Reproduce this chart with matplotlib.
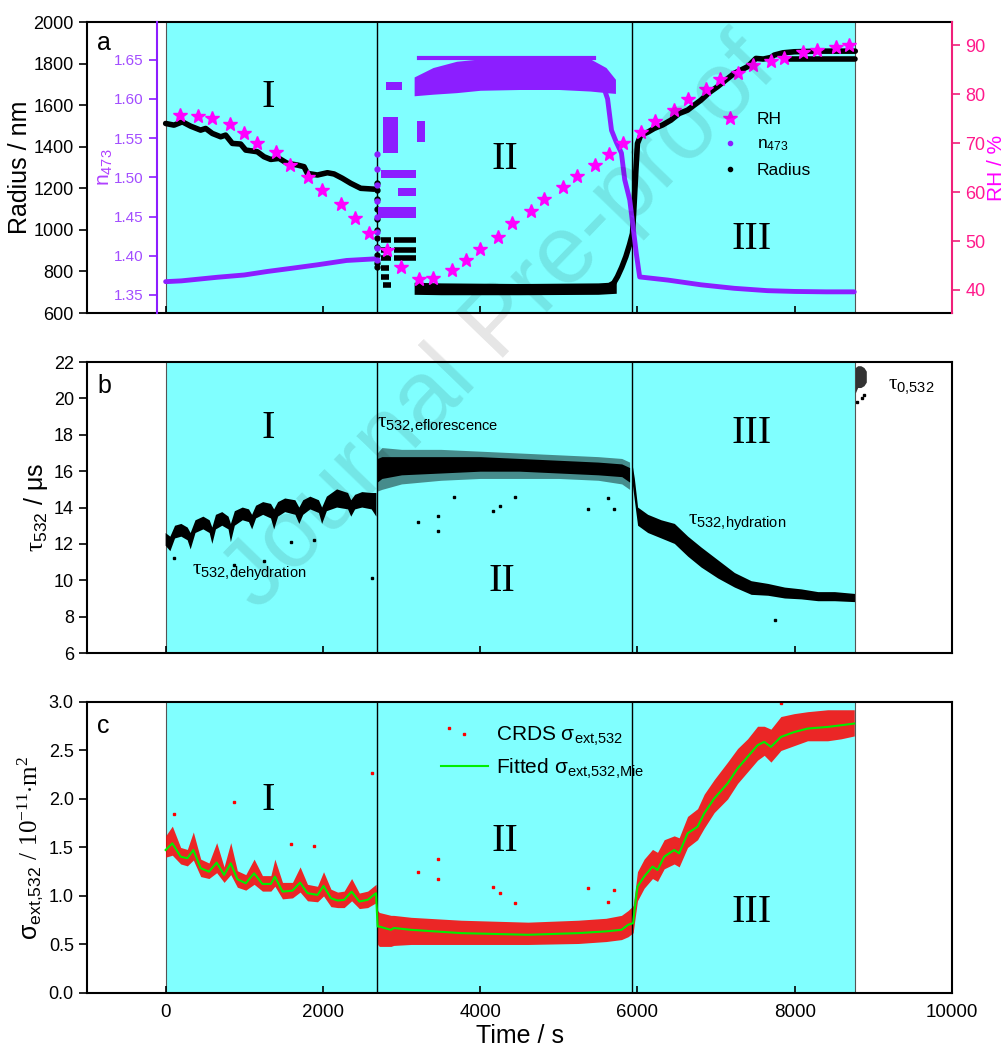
import numpy as np
import matplotlib
matplotlib.use('Agg')
import matplotlib.pyplot as plt
from matplotlib.lines import Line2D

plt.rcParams['font.family'] = ['Liberation Sans', 'DejaVu Sans']
plt.rcParams['mathtext.fontset'] = 'custom'
plt.rcParams['mathtext.rm'] = 'Liberation Serif'
plt.rcParams['mathtext.sf'] = 'Liberation Sans'
plt.rcParams['mathtext.it'] = 'Liberation Sans:italic'
plt.rcParams['mathtext.default'] = 'regular'

CYAN = '#80FFFF'
PURPLE = '#8C1EFF'
MAGENTA = '#FF00FF'
PINK = '#F0207A'
RED = '#FF0000'
GREEN = '#00EE00'

# regime boundaries (s)
t_start, t_eff, t_hyd, t_end = 0, 2684, 5935, 8770

# ---------------- panel a ----------------
# radius, regime I (nm)
rad1_t = [0, 106, 212, 318, 445, 509, 594, 700, 763, 848, 954, 1018, 1166, 1251, 1336,
          1442, 1548, 1675, 1760, 1802, 1930, 2057, 2142, 2248, 2354, 2481, 2650]
rad1_v = [1512, 1504, 1520, 1499, 1480, 1488, 1464, 1448, 1456, 1416, 1413, 1384, 1376, 1352, 1339,
          1344, 1320, 1312, 1304, 1272, 1264, 1275, 1269, 1248, 1224, 1200, 1196]
# radius column at efflorescence onset
rad_col_t = 2690
rad_col_v = [1225, 1190, 1150, 1100, 1050, 1000, 960, 920, 880, 840, 820]
# radius clusters just after efflorescence (start, end, value)
blk_t0 = [2735, 2900, 2735, 2900, 2735, 2900, 2735, 2735, 2760]
blk_t1 = [2860, 3180, 2860, 3180, 2860, 3180, 2840, 2840, 2860]
blk_v = [951, 951, 903, 903, 863, 863, 815, 775, 735]
# radius, crystalline plateau
rad2_t = [3160, 3500, 4500, 5500, 5730]
rad2_hi = [748, 745, 742, 745, 750]
rad2_lo = [690, 688, 688, 690, 695]
# radius, deliquescence + regime III
rad3_t = [5620, 5700, 5746, 5800, 5852, 5900, 5937, 5958, 5980, 6000, 6043, 6130, 6212, 6320,
          6425, 6530, 6637, 6720, 6806, 6910, 7018, 7120, 7230, 7320, 7400, 7506, 7600, 7700,
          7739, 7850, 7993, 8300, 8770]
rad3_v = [726, 745, 775, 820, 871, 930, 983, 1128, 1288, 1416, 1456, 1470, 1488, 1505,
          1528, 1560, 1576, 1600, 1624, 1660, 1689, 1720, 1753, 1770, 1785, 1825, 1822, 1830,
          1841, 1852, 1857, 1860, 1860]
rad4_t = [7860, 8770]
rad4_v = [1822, 1822]

# n473, regime I
n1_t = [0, 200, 658, 1000, 1295, 1600, 1932, 2300, 2654]
n1_v = [1.367, 1.368, 1.3726, 1.3755, 1.380, 1.384, 1.3885, 1.394, 1.396]
n_col_t = 2690
n_col_v = [1.395, 1.41, 1.43, 1.45, 1.47, 1.49, 1.51, 1.53]
# n473 clusters (start, end, low, high)
nb_t0 = [2760, 2800, 2740, 2960, 2700, 3200]
nb_t1 = [2960, 3000, 3180, 3180, 3180, 3300]
nb_lo = [1.531, 1.611, 1.499, 1.476, 1.448, 1.545]
nb_hi = [1.577, 1.621, 1.509, 1.486, 1.462, 1.572]
# n473 crystalline band
n2_t = [3160, 3400, 3700, 4000, 4500, 5000, 5400, 5600, 5720]
n2_hi = [1.628, 1.640, 1.648, 1.651, 1.651, 1.651, 1.651, 1.640, 1.625]
n2_lo = [1.604, 1.606, 1.608, 1.611, 1.612, 1.612, 1.610, 1.608, 1.607]
n2_top_t = [3220, 5450]
n2_top_v = [1.652, 1.652]
# n473 deliquescence + regime III
n3_t = [5540, 5620, 5670, 5730, 5796, 5838, 5880, 5902, 5944, 5985, 6028, 6387, 6806, 7230,
        7654, 8000, 8400, 8757]
n3_v = [1.624, 1.600, 1.560, 1.545, 1.531, 1.497, 1.480, 1.471, 1.437, 1.403, 1.373, 1.369,
        1.363, 1.3585, 1.3555, 1.3545, 1.354, 1.354]

# RH (%)
rh_t = [178, 412, 586, 819, 997, 1167, 1408, 1582, 1811, 1993, 2226, 2405, 2587, 2812, 2998,
        3223, 3405, 3639, 3817, 3995, 4228, 4402, 4644, 4813, 5047, 5229, 5462, 5640, 5818,
        6043, 6225, 6459, 6637, 6870, 7048, 7281, 7464, 7697, 7858, 8100, 8282, 8524, 8694]
rh_v = [75.8, 75.6, 75.1, 73.8, 72.0, 70.1, 68.1, 65.5, 63.0, 60.5, 57.6, 54.6, 51.6, 48.2, 44.7,
        42.2, 42.4, 44.0, 46.1, 48.3, 50.9, 53.6, 56.1, 58.5, 61.0, 63.3, 65.6, 67.7, 70.0,
        72.3, 74.4, 76.7, 78.9, 81.1, 83.0, 84.2, 86.0, 86.8, 87.3, 88.5, 88.9, 89.6, 90.1]

# ---------------- panel b: ring-down time (us), envelope of the scatter ----------------
tau_t = [0, 60, 120, 200, 280, 318, 380, 480, 560, 594, 640, 720, 800, 830, 880, 980, 1060,
         1100, 1150, 1240, 1340, 1380, 1430, 1520, 1650, 1700, 1750, 1840, 1950, 1990, 2050,
         2180, 2320, 2360, 2410, 2500, 2620, 2680,
         2690, 2750, 3000, 3500, 4000, 4500, 5000, 5500, 5800, 5900,
         5940, 5966, 6008, 6136, 6306, 6475, 6645, 6815, 7027, 7239, 7452, 7664, 7876, 8088,
         8300, 8512, 8766]
tau_hi = [12.6, 12.4, 13.0, 13.1, 12.9, 12.6, 13.3, 13.5, 13.3, 12.9, 13.6, 13.75, 13.5, 13.1,
          13.8, 14.0, 13.9, 13.6, 14.1, 14.3, 14.2, 13.9, 14.3, 14.5, 14.4, 14.0, 14.4, 14.6,
          14.4, 14.0, 14.6, 15.0, 14.8, 14.4, 14.7, 14.85, 14.8, 14.8,
          17.0, 17.3, 17.2, 17.2, 17.1, 17.0, 16.9, 16.8, 16.7, 16.5,
          16.3, 15.6, 14.0, 13.6, 13.3, 13.1, 12.4, 11.8, 11.1, 10.4, 9.95, 9.8, 9.6, 9.5,
          9.35, 9.35, 9.25]
tau_lo = [11.9, 11.6, 12.3, 12.4, 12.2, 11.7, 12.6, 12.8, 12.6, 12.0, 12.8, 13.0, 12.8, 12.1,
          13.0, 13.3, 13.2, 12.8, 13.4, 13.6, 13.4, 12.8, 13.5, 13.75, 13.6, 13.1, 13.6, 13.9,
          13.7, 13.1, 13.8, 14.0, 13.9, 13.5, 13.9, 14.0, 13.9, 13.5,
          14.9, 15.0, 15.3, 15.5, 15.6, 15.6, 15.6, 15.5, 15.3, 15.0,
          15.3, 14.4, 13.0, 12.6, 12.3, 12.0, 11.3, 10.7, 10.1, 9.6, 9.2, 9.15, 9.0, 8.95,
          8.85, 8.85, 8.8]
# dense core of the crystalline-phase scatter
core_t = [2690, 2750, 3000, 3500, 4000, 4500, 5000, 5500, 5800, 5900]
core_hi = [16.7, 16.8, 16.8, 16.8, 16.8, 16.7, 16.6, 16.5, 16.4, 16.2]
core_lo = [15.4, 15.6, 15.8, 15.9, 16.0, 16.0, 15.9, 15.8, 15.7, 15.4]
# empty-cavity ring-down
tau0_t = [8770, 8800, 8840, 8880, 8910]
tau0_hi = [21.7, 21.8, 21.8, 21.7, 21.5]
tau0_lo = [20.3, 20.6, 20.6, 20.7, 20.9]
# isolated points
tau_out_t = [106, 870, 1252, 1590, 1886, 2624, 3206, 3469, 3469, 3673, 4161, 4246, 4437,
             5372, 5626, 5702, 7750, 8790, 8850, 8880]
tau_out_v = [11.2, 10.85, 11.06, 12.1, 12.2, 10.1, 13.2, 12.7, 13.55, 14.6, 13.8, 14.1, 14.6,
             13.9, 14.5, 13.9, 7.8, 19.8, 20.0, 20.2]

# ---------------- panel c: extinction cross section (1e-11 m^2) ----------------
fit_t = [0, 85, 191, 276, 352, 446, 551, 649, 743, 828, 912, 1019, 1125, 1231, 1338, 1389,
         1486, 1613, 1710, 1804, 1931, 2008, 2102, 2187, 2270, 2365, 2463, 2569, 2675, 2696,
         2717, 2866, 2900, 3121, 3758, 4608, 5245, 5600, 5796, 5881, 5945, 5958, 6000, 6085,
         6191, 6255, 6340, 6467, 6530, 6637, 6764, 6849, 6976, 7146, 7273, 7400, 7527, 7612,
         7697, 7824, 7993, 8163, 8418, 8588, 8757]
fit_v = [1.474, 1.543, 1.405, 1.389, 1.474, 1.286, 1.251, 1.344, 1.217, 1.337, 1.173, 1.131,
         1.234, 1.124, 1.124, 1.200, 1.045, 1.055, 1.138, 1.029, 1.011, 1.104, 0.977, 0.953,
         0.960, 1.045, 0.943, 0.960, 1.029, 0.685, 0.685, 0.651, 0.670, 0.651, 0.617, 0.600,
         0.617, 0.635, 0.651, 0.703, 0.720, 0.823, 1.097, 1.200, 1.303, 1.268, 1.405, 1.474,
         1.440, 1.646, 1.714, 1.852, 2.006, 2.160, 2.315, 2.434, 2.554, 2.589, 2.537, 2.640,
         2.690, 2.726, 2.743, 2.760, 2.778]
crds_hi = [1.62, 1.72, 1.50, 1.48, 1.66, 1.38, 1.34, 1.55, 1.30, 1.55, 1.26, 1.22, 1.38, 1.21,
           1.21, 1.38, 1.14, 1.14, 1.30, 1.12, 1.10, 1.25, 1.07, 1.04, 1.05, 1.18, 1.03, 1.05,
           1.12, 0.85, 0.83, 0.80, 0.80, 0.78, 0.75, 0.73, 0.75, 0.77, 0.80, 0.85, 0.90, 0.98,
           1.25, 1.38, 1.48, 1.45, 1.58, 1.62, 1.60, 1.82, 1.90, 2.05, 2.20, 2.38, 2.52, 2.62,
           2.75, 2.75, 2.72, 2.85, 2.88, 2.90, 2.92, 2.92, 2.92]
crds_lo = [1.40, 1.42, 1.33, 1.31, 1.37, 1.20, 1.18, 1.24, 1.14, 1.22, 1.09, 1.06, 1.12, 1.05,
           1.05, 1.10, 0.97, 0.98, 1.04, 0.95, 0.94, 1.00, 0.89, 0.88, 0.88, 0.95, 0.87, 0.88,
           0.93, 0.50, 0.48, 0.48, 0.49, 0.50, 0.50, 0.50, 0.51, 0.53, 0.55, 0.58, 0.62, 0.70,
           0.95, 1.08, 1.18, 1.15, 1.28, 1.33, 1.30, 1.50, 1.58, 1.70, 1.86, 2.00, 2.16, 2.28,
           2.40, 2.45, 2.38, 2.50, 2.55, 2.60, 2.60, 2.62, 2.65]
crds_out_t = [106, 870, 2630, 1590, 1890, 3205, 3460, 3460, 3609, 4161, 4246, 4437, 5372,
              5626, 5698, 7825]
crds_out_v = [1.85, 1.97, 2.27, 1.54, 1.52, 1.245, 1.385, 1.18, 2.73, 1.097, 1.03, 0.926, 1.087,
              0.943, 1.063, 2.99]

xticks = [0, 2000, 4000, 6000, 8000, 10000]

fig = plt.figure(figsize=(10.07, 10.55), dpi=100)
ax_a = fig.add_axes([0.0864, 0.7033, 0.859, 0.2758])
ax_b = fig.add_axes([0.0864, 0.3810, 0.859, 0.2758])
ax_c = fig.add_axes([0.0864, 0.0588, 0.859, 0.2758])

for ax in (ax_a, ax_b, ax_c):
    ax.set_xlim(-1000, 10000)
    ax.set_xticks(xticks)
    ax.axvspan(t_start, t_end, color=CYAN, lw=0, zorder=0.5)
    ax.axvline(t_start, color='#555555', lw=0.8, zorder=0.6)
    ax.axvline(t_end, color='#555555', lw=0.8, zorder=0.6)
    ax.axvline(t_eff, color='k', lw=1.0, zorder=3)
    ax.axvline(t_hyd, color='k', lw=1.0, zorder=3)
    ax.tick_params(axis='x', direction='in', length=5, width=1.2, labelsize=13.5, pad=8)
    ax.tick_params(axis='y', direction='out', length=6, width=1.2, labelsize=13)
    for s in ax.spines.values():
        s.set_linewidth(1.5)
ax_a.tick_params(axis='x', labelbottom=False)
ax_b.tick_params(axis='x', labelbottom=False)

# ---- panel a ----
ax_a.set_ylim(600, 2000)
ax_a.set_yticks(range(600, 2001, 200))
ax_a.spines['right'].set_visible(False)
ax_a.plot(rad1_t, rad1_v, color='k', lw=4, solid_capstyle='round', zorder=2)
ax_a.plot(np.full(len(rad_col_v), rad_col_t), rad_col_v, 'o', color='k', ms=3.5, zorder=2)
ax_a.hlines(blk_v, blk_t0, blk_t1, color='k', lw=4, zorder=2)
ax_a.fill_between(rad2_t, rad2_lo, rad2_hi, color='k', lw=0, zorder=2)
ax_a.plot(rad3_t, rad3_v, color='k', lw=4, solid_capstyle='round', zorder=2)
ax_a.plot(rad4_t, rad4_v, color='k', lw=4, solid_capstyle='round', zorder=2)
ax_a.set_ylabel('Radius / nm', fontsize=18)
ax_a.yaxis.set_label_coords(-0.064, 0.5)
ax_a.text(0.012, 0.904, 'a', transform=ax_a.transAxes, fontsize=18)

ax_n = ax_a.twinx()
ax_n.set_ylim(1.327, 1.698)
ax_n.set_yticks([1.35, 1.40, 1.45, 1.50, 1.55, 1.60, 1.65])
ax_n.yaxis.set_major_formatter(plt.FormatStrFormatter('%.2f'))
ax_n.spines['left'].set_visible(True)
ax_n.spines['left'].set_position(('axes', 0.0806))
ax_n.spines['left'].set_color(PURPLE)
ax_n.spines['left'].set_linewidth(1.5)
for s in ('right', 'top', 'bottom'):
    ax_n.spines[s].set_visible(False)
ax_n.yaxis.set_ticks_position('left')
ax_n.yaxis.set_label_position('left')
ax_n.tick_params(axis='y', direction='out', length=6, width=1.2, colors=PURPLE,
                 labelcolor='#A24DFF', labelsize=11)
ax_n.plot(n1_t, n1_v, color=PURPLE, lw=3.5, solid_capstyle='round')
ax_n.plot(np.full(len(n_col_v), n_col_t), n_col_v, 'o', color=PURPLE, ms=3.5)
nb_lo_a = np.array(nb_lo)
ax_n.bar(nb_t0, np.array(nb_hi) - nb_lo_a, width=np.array(nb_t1) - np.array(nb_t0),
         bottom=nb_lo_a, align='edge', color=PURPLE, lw=0)
ax_n.fill_between(n2_t, n2_lo, n2_hi, color=PURPLE, lw=0)
ax_n.plot(n2_top_t, n2_top_v, color=PURPLE, lw=3)
ax_n.plot(n3_t, n3_v, color=PURPLE, lw=3.5, solid_capstyle='round')
ax_n.set_ylabel('n$_{473}$', color='#B040FF', fontsize=15)
ax_n.yaxis.set_label_coords(0.032, 0.5)

ax_rh = ax_a.twinx()
ax_rh.set_ylim(35.3, 94.7)
ax_rh.set_yticks(range(40, 91, 10))
for s in ('left', 'top', 'bottom'):
    ax_rh.spines[s].set_visible(False)
ax_rh.spines['right'].set_color(PINK)
ax_rh.spines['right'].set_linewidth(1.5)
ax_rh.tick_params(axis='y', direction='out', length=6, width=1.2, colors=PINK,
                  labelcolor='#FF1A8C', labelsize=13)
ax_rh.plot(rh_t, rh_v, ls='none', marker='*', color=MAGENTA, ms=10)
ax_rh.set_ylabel('RH / %', color=MAGENTA, fontsize=15)
ax_rh.yaxis.set_label_coords(1.041, 0.5)

handles = [Line2D([], [], ls='none', marker='*', color=MAGENTA, ms=10),
           Line2D([], [], ls='none', marker='.', color=PURPLE, ms=6),
           Line2D([], [], ls='none', marker='.', color='k', ms=6)]
ax_rh.legend(handles, ['RH', 'n$_{473}$', 'Radius'], frameon=False, fontsize=12.5,
             handlelength=1.5, labelspacing=0.55, loc='upper left',
             bbox_to_anchor=(0.71, 0.745))

for lab, fx, fy, ax in (('I', 0.209, 0.739, ax_a), ('II', 0.483, 0.526, ax_a), ('III', 0.768, 0.254, ax_a),
                        ('I', 0.209, 0.773, ax_b), ('II', 0.48, 0.247, ax_b), ('III', 0.768, 0.753, ax_b),
                        ('I', 0.209, 0.663, ax_c), ('II', 0.483, 0.519, ax_c), ('III', 0.768, 0.278, ax_c)):
    ax.text(fx, fy, lab, transform=ax.transAxes, family='Liberation Serif', fontsize=29,
            ha='center', va='center', zorder=6)

# ---- panel b ----
ax_b.set_ylim(6, 22)
ax_b.set_yticks(range(6, 23, 2))
tt = np.array(tau_t)
lo = np.array(tau_lo)
hi = np.array(tau_hi)
solid = (tt < t_eff) | (tt > t_hyd)
ax_b.fill_between(tt, lo, hi, where=solid, color='k', lw=0, zorder=2)
ax_b.fill_between(tt, lo, hi, where=~solid, color='k', alpha=0.45, lw=0, zorder=2)
ax_b.fill_between(core_t, core_lo, core_hi, color='k', lw=0, zorder=2)
ax_b.fill_between(tau0_t, tau0_lo, tau0_hi, color='k', alpha=0.8, lw=0, zorder=2)
ax_b.plot(tau_out_t, tau_out_v, ls='none', marker='s', ms=1.6, color='k', zorder=2)
ax_b.set_ylabel(r'$\mathrm{\tau}_{532}$ / μs', fontsize=18)
ax_b.yaxis.set_label_coords(-0.043, 0.5)
ax_b.text(0.012, 0.893, 'b', transform=ax_b.transAxes, fontsize=18)
ax_b.text(0.335, 0.773, r'$\mathrm{\tau}_{532{,}eflorescence}$', transform=ax_b.transAxes, fontsize=15)
ax_b.text(0.121, 0.268, r'$\mathrm{\tau}_{532{,}dehydration}$', transform=ax_b.transAxes, fontsize=15)
ax_b.text(0.695, 0.44, r'$\mathrm{\tau}_{532{,}hydration}$', transform=ax_b.transAxes, fontsize=15)
ax_b.text(0.926, 0.904, r'$\mathrm{\tau}_{0{,}532}$', transform=ax_b.transAxes, fontsize=15)

# ---- panel c ----
ax_c.set_ylim(0, 3.0)
ax_c.set_yticks(np.arange(0, 3.01, 0.5))
ax_c.yaxis.set_major_formatter(plt.FormatStrFormatter('%.1f'))
ax_c.fill_between(fit_t, crds_lo, crds_hi, color=RED, alpha=0.85, lw=0, zorder=2)
ax_c.plot(crds_out_t, crds_out_v, ls='none', marker='s', ms=1.6, color=RED, zorder=2)
ax_c.plot(fit_t, fit_v, color=GREEN, lw=1.5, zorder=4)
ax_c.set_ylabel(r'σ$_{ext{,}532}$$\mathrm{\ /\ 10^{-11}{\cdot}m^{2}}$', fontsize=18)
ax_c.yaxis.set_label_coords(-0.048, 0.5)
ax_c.set_xlabel('Time / s', fontsize=18, labelpad=2)
ax_c.text(0.012, 0.893, 'c', transform=ax_c.transAxes, fontsize=18)
h_c = [Line2D([], [], ls='none', marker='s', ms=1.5, color=RED),
       Line2D([], [], color=GREEN, lw=1.5)]
ax_c.legend(h_c, ['CRDS σ$_{ext{,}532}$', 'Fitted σ$_{ext{,}532{,}Mie}$'], frameon=False, fontsize=15,
            handlelength=2.3, handletextpad=0.35, labelspacing=0.4, loc='upper left',
            bbox_to_anchor=(0.387, 0.985))

fig.text(0.497, 0.692, 'Journal Pre-proof', rotation=46, fontsize=70, color='k', alpha=0.1,
         ha='center', va='center', zorder=10)

fig.savefig('out.png', dpi=100)
